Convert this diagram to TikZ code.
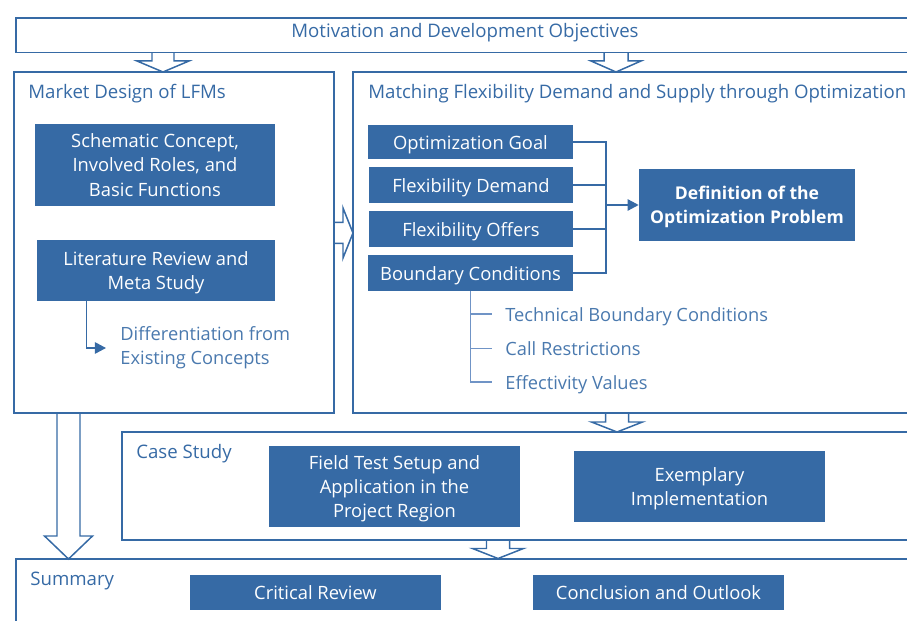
\documentclass[tikz,border=0pt]{standalone}
\usepackage{fontspec}
\setmainfont{Open Sans}
\usetikzlibrary{arrows.meta}

\definecolor{lfmblue}{RGB}{54,106,165}
\definecolor{lfmlight}{RGB}{112,148,198}

% hollow block arrows between the frames
\newcommand{\fatdown}[6]{% x, y top, y tip, shaft half, head half, head length
  \draw[frame] (#1-#4,#2) -- (#1-#4,#3-#6) -- (#1-#5,#3-#6) -- (#1,#3)
    -- (#1+#5,#3-#6) -- (#1+#4,#3-#6) -- (#1+#4,#2);}
\newcommand{\fatright}[6]{% y, x start, x tip, shaft half, head half, head length
  \draw[frame] (#2,#1-#4) -- (#3-#6,#1-#4) -- (#3-#6,#1-#5) -- (#3,#1)
    -- (#3-#6,#1+#5) -- (#3-#6,#1+#4) -- (#2,#1+#4);}

\begin{document}
\begin{tikzpicture}[x=0.02cm, y=-0.02cm,
    frame/.style={draw=lfmblue, line width=0.85pt},
    task/.style={fill=lfmblue, text=white, align=center, inner sep=0pt,
      font=\fontsize{10.45}{13.7}\selectfont},
    oneline/.style={text height=10.6pt, text depth=2.6pt},
    multiline/.style={text depth=0pt},
    heading/.style={text=lfmblue, inner sep=0pt, text height=10.4pt, text depth=2.6pt,
      font=\fontsize{10.6}{13.7}\selectfont},
    item/.style={text=lfmblue!90, anchor=west, align=left, inner ysep=0pt,
      font=\fontsize{10.4}{13.7}\selectfont},
    link/.style={draw=lfmblue, line width=0.85pt},
    sublink/.style={draw=lfmlight, line width=0.8pt},
    tip/.style={-{Triangle[length=6.3pt,width=6.5pt]}}]
  \useasboundingbox (0,0) rectangle (907,621);

  % frames
  \draw[frame] (16,18) rectangle (930,52.7);
  \draw[frame] (14,72) rectangle (334,413);
  \draw[frame] (353,72) rectangle (930,413);
  \draw[frame] (122,432) rectangle (930,540);
  \draw[frame] (16,559) rectangle (930,640);

  \node[heading] (motiv) at (465,31) {Motivation and Development Objectives};
  \node[heading, anchor=west] (market) at (28,92) {Market Design of LFMs};
  \node[heading, anchor=west] (matching) at (368,92) {Matching Flexibility Demand and Supply through Optimization};
  \node[heading, anchor=west] (case) at (136,452) {Case Study};
  \node[heading, anchor=west] (summary) at (30,579) {Summary};

  \fatdown{163}{52.7}{72}{11}{26}{11}
  \fatdown{616}{52.7}{72}{12}{25}{11}
  \fatright{233}{334}{353}{10.5}{25}{10}
  \fatdown{617}{413}{432}{11.5}{25.5}{10}
  \fatdown{498}{540}{558.5}{11.5}{25.5}{10}
  \fatdown{68.5}{413}{559}{11.5}{24}{23}

  % market design
  \node[task, multiline, minimum width=4.8cm, minimum height=1.64cm] (schem) at (155,165)
    {Schematic Concept,\\Involved Roles, and\\Basic Functions};
  \node[task, multiline, minimum width=4.76cm, minimum height=1.22cm] (lit) at (156,270.5)
    {Literature Review and\\Meta Study};
  \node[item, inner xsep=8pt] (diff) at (106,348) {Differentiation from\\Existing Concepts};
  \draw[link, tip] (lit.south west) ++(50,0) |- (diff.west);

  % optimization
  \node[task, oneline, minimum width=4.1cm, minimum height=0.68cm] (goal) at (470.5,142) {Optimization Goal};
  \node[task, oneline, minimum width=4.08cm, minimum height=0.72cm] (demand) at (471,185) {Flexibility Demand};
  \node[task, oneline, minimum width=4.08cm, minimum height=0.72cm] (offers) at (471,229) {Flexibility Offers};
  \node[task, oneline, minimum width=4.1cm, minimum height=0.72cm] (bound) at (470.5,273) {Boundary Conditions};
  \node[task, multiline, minimum width=4.32cm, minimum height=1.44cm, font=\fontsize{10}{13.7}\selectfont\bfseries] (def) at (747,205)
    {Definition of the\\Optimization Problem};

  \coordinate (join) at (606,205);
  \foreach \n in {goal,demand,offers,bound}
    \draw[link] (\n.east) -| (join);
  \draw[link, tip] (join) -- (def.west);

  \node[item, oneline, inner xsep=7.4pt] (tech) at (492,314) {Technical Boundary Conditions};
  \node[item, oneline, inner xsep=7.4pt] (call) at (492,348.5) {Call Restrictions};
  \node[item, oneline, inner xsep=7.4pt] (eff) at (492,382) {Effectivity Values};
  \draw[sublink] (bound.south) |- (eff.west);
  \draw[sublink] (bound.south |- tech.west) -- (tech.west);
  \draw[sublink] (bound.south |- call.west) -- (call.west);

  % case study
  \node[task, multiline, minimum width=5.02cm, minimum height=1.62cm] (field) at (394.5,486.5)
    {Field Test Setup and\\Application in the\\Project Region};
  \node[task, multiline, minimum width=5.02cm, minimum height=1.42cm] (exem) at (699.5,486.5)
    {Exemplary\\Implementation};

  % summary
  \node[task, oneline, minimum width=5.02cm, minimum height=0.7cm] (crit) at (315.5,592.5) {Critical Review};
  \node[task, oneline, minimum width=5.02cm, minimum height=0.7cm] (concl) at (658.5,592.5) {Conclusion and Outlook};
\end{tikzpicture}
\end{document}
